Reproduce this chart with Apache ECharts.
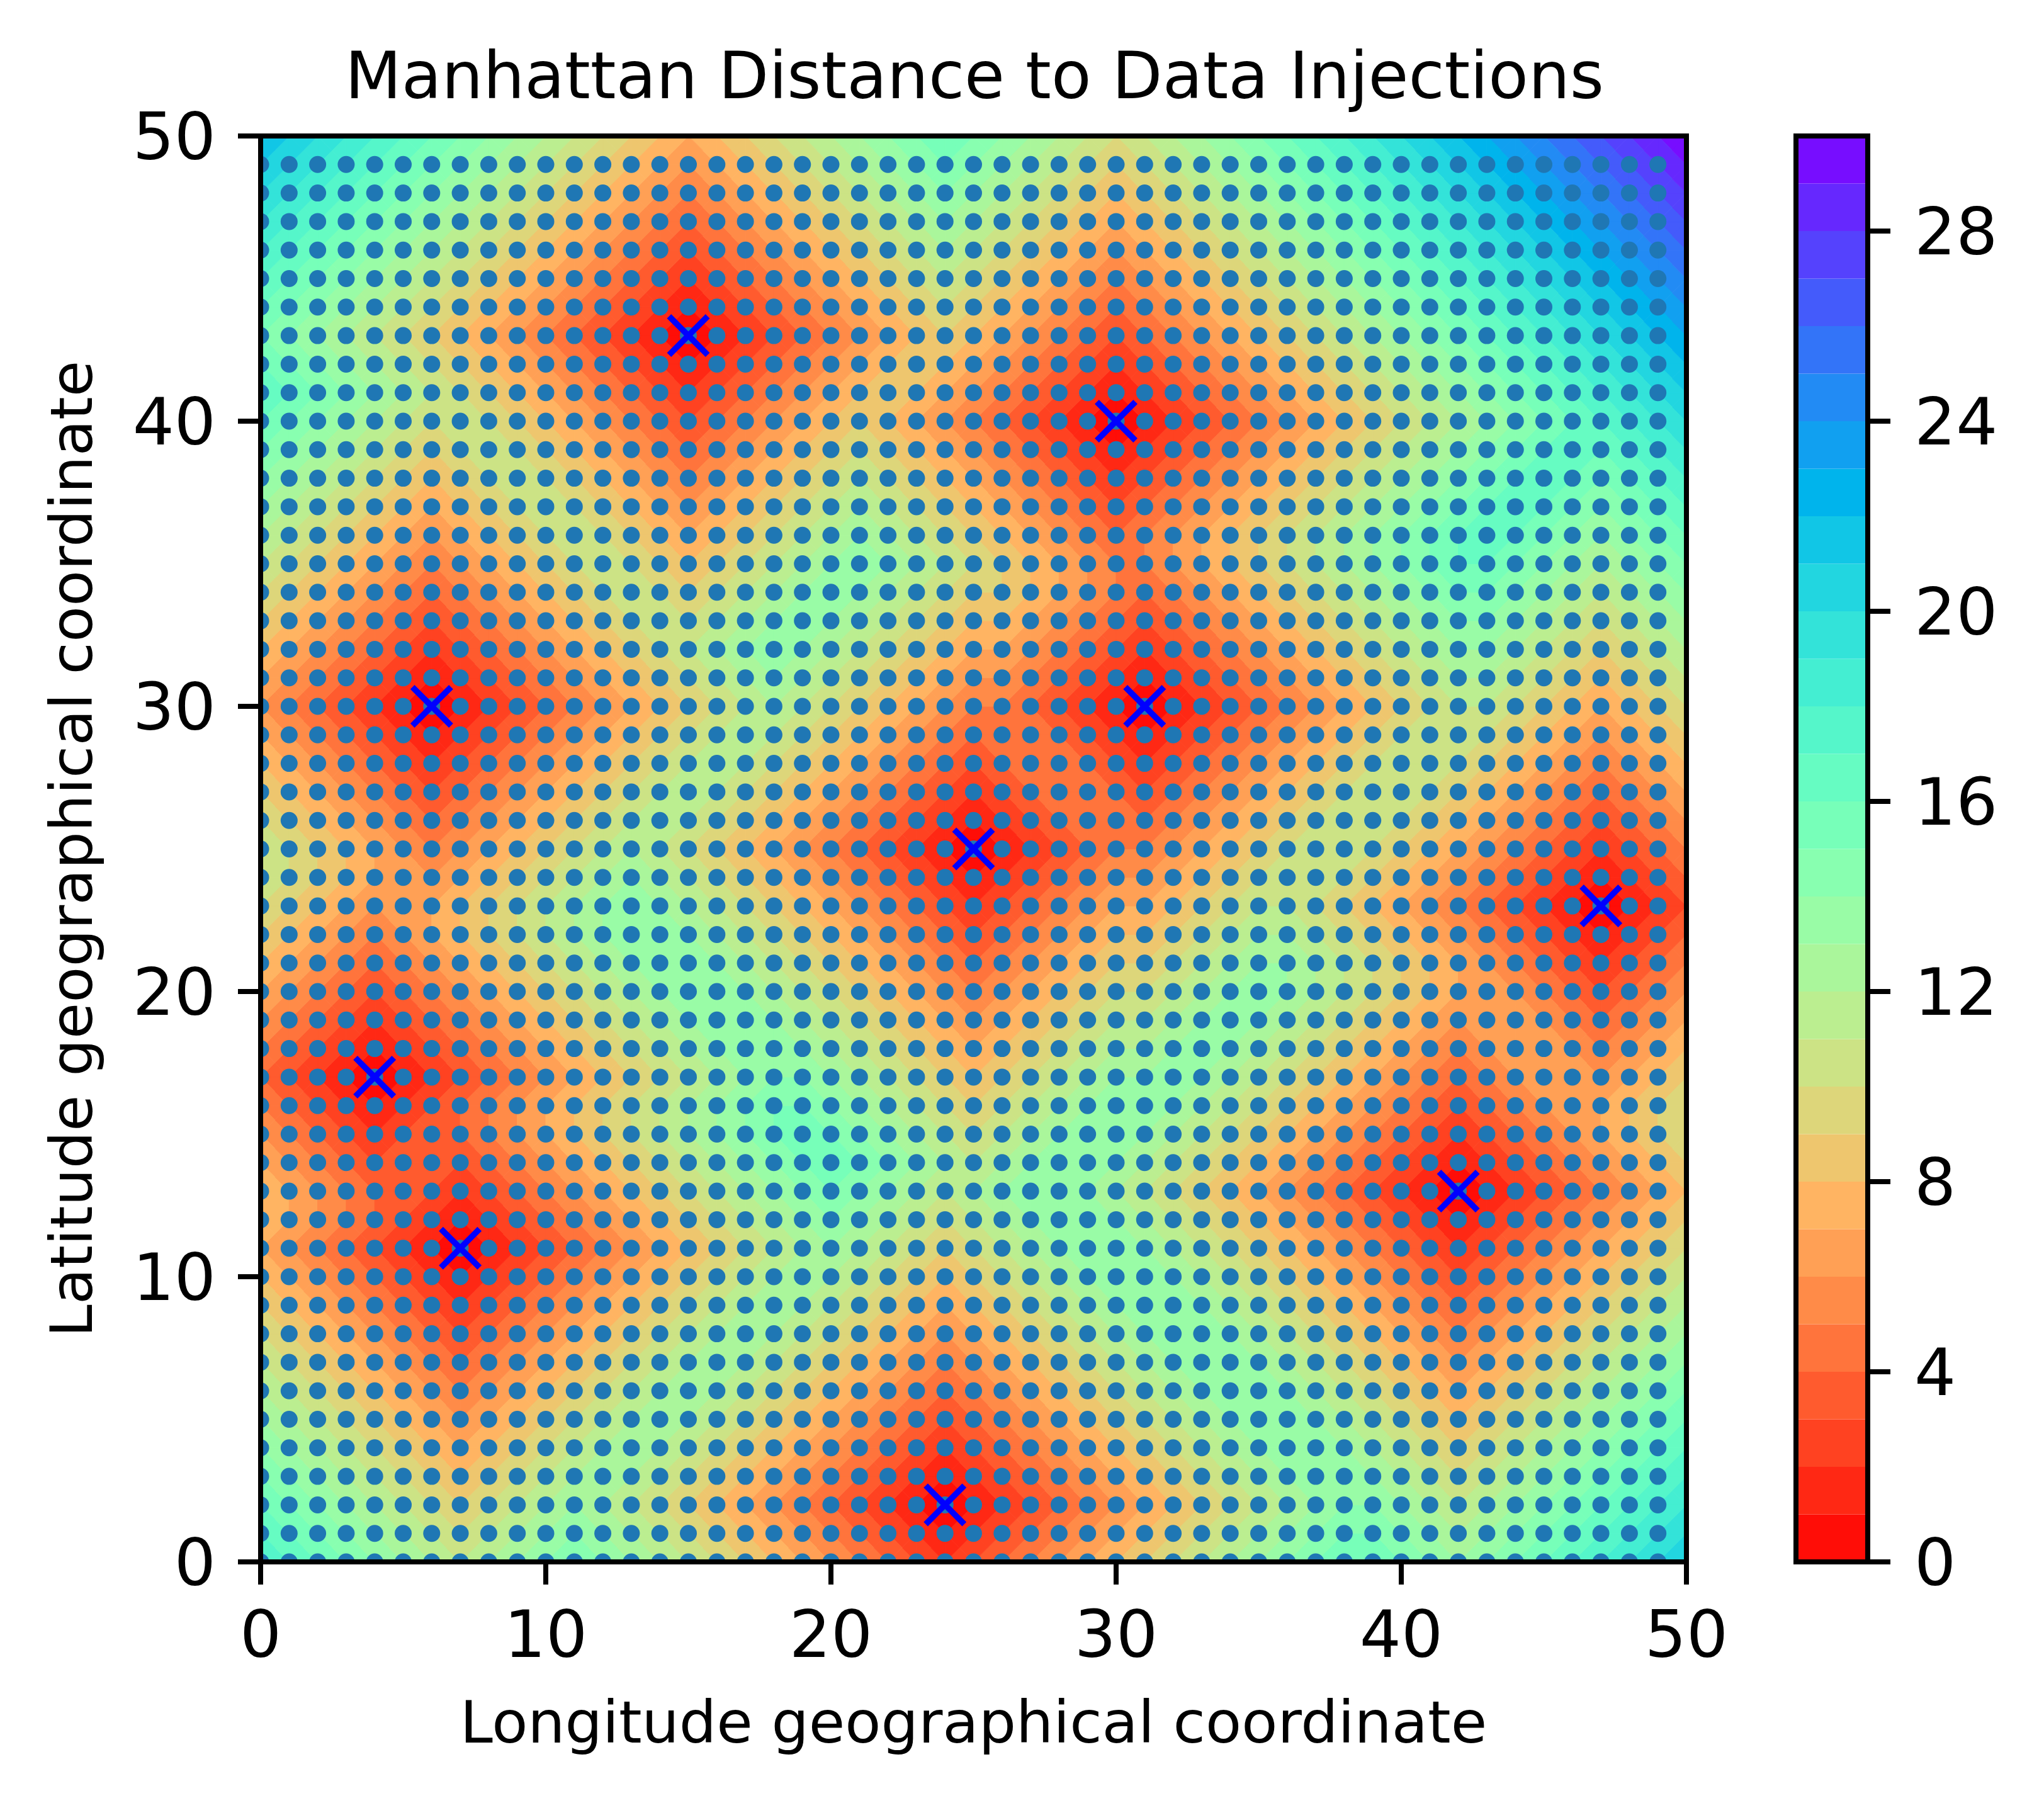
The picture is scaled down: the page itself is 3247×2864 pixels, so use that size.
<!DOCTYPE html>
<html>
<head>
<meta charset="utf-8">
<style>
  html, body { margin: 0; padding: 0; background: #fff; }
  #chart { width: 3247px; height: 2864px; }
</style>
<script src="https://cdn.jsdelivr.net/npm/echarts@6/dist/echarts.min.js"></script>
</head>
<body>
<div id="chart"></div>
<script>
// injection sites
const injectionX = [15, 30, 6, 31, 25, 47, 4, 42, 7, 24]
const injectionY = [43, 40, 30, 30, 25, 23, 17, 13, 11, 2]

// sample dots
const sampleCoords = [0,1,2,3,4,5,6,7,8,9,10,11,12,13,14,15,16,17,18,19,20,21,22,23,24,25,26,27,28,29,30,31,32,33,34,35,36,37,38,39,40,41,42,43,44,45,46,47,48,49]

// distance field, one row per latitude 0..50, longitude 0..50 left to right
const distanceRows = [
  [18,17,16,15,14,13,12,11,12,13,14,15,14,13,12,11,10,9,8,7,6,5,4,3,2,3,4,5,6,7,8,9,10,11,12,13,14,15,16,16,15,14,13,14,15,16,17,18,19,20,21],
  [17,16,15,14,13,12,11,10,11,12,13,14,13,12,11,10,9,8,7,6,5,4,3,2,1,2,3,4,5,6,7,8,9,10,11,12,13,14,15,15,14,13,12,13,14,15,16,17,18,19,20],
  [16,15,14,13,12,11,10,9,10,11,12,13,12,11,10,9,8,7,6,5,4,3,2,1,0,1,2,3,4,5,6,7,8,9,10,11,12,13,14,14,13,12,11,12,13,14,15,16,17,18,19],
  [15,14,13,12,11,10,9,8,9,10,11,12,13,12,11,10,9,8,7,6,5,4,3,2,1,2,3,4,5,6,7,8,9,10,11,12,13,14,14,13,12,11,10,11,12,13,14,15,16,17,18],
  [14,13,12,11,10,9,8,7,8,9,10,11,12,13,12,11,10,9,8,7,6,5,4,3,2,3,4,5,6,7,8,9,10,11,12,13,14,14,13,12,11,10,9,10,11,12,13,14,15,16,17],
  [13,12,11,10,9,8,7,6,7,8,9,10,11,12,13,12,11,10,9,8,7,6,5,4,3,4,5,6,7,8,9,10,11,12,13,14,14,13,12,11,10,9,8,9,10,11,12,13,14,15,16],
  [12,11,10,9,8,7,6,5,6,7,8,9,10,11,12,13,12,11,10,9,8,7,6,5,4,5,6,7,8,9,10,11,12,13,14,14,13,12,11,10,9,8,7,8,9,10,11,12,13,14,15],
  [11,10,9,8,7,6,5,4,5,6,7,8,9,10,11,12,13,12,11,10,9,8,7,6,5,6,7,8,9,10,11,12,13,14,14,13,12,11,10,9,8,7,6,7,8,9,10,11,12,13,14],
  [10,9,8,7,6,5,4,3,4,5,6,7,8,9,10,11,12,13,12,11,10,9,8,7,6,7,8,9,10,11,12,13,14,14,13,12,11,10,9,8,7,6,5,6,7,8,9,10,11,12,13],
  [9,8,7,6,5,4,3,2,3,4,5,6,7,8,9,10,11,12,13,12,11,10,9,8,7,8,9,10,11,12,13,14,14,13,12,11,10,9,8,7,6,5,4,5,6,7,8,9,10,11,12],
  [8,7,6,5,4,3,2,1,2,3,4,5,6,7,8,9,10,11,12,13,12,11,10,9,8,9,10,11,12,13,14,14,13,12,11,10,9,8,7,6,5,4,3,4,5,6,7,8,9,10,11],
  [7,6,5,4,3,2,1,0,1,2,3,4,5,6,7,8,9,10,11,12,13,12,11,10,9,10,11,12,13,14,14,13,12,11,10,9,8,7,6,5,4,3,2,3,4,5,6,7,8,9,10],
  [8,7,6,5,4,3,2,1,2,3,4,5,6,7,8,9,10,11,12,13,14,13,12,11,10,11,12,13,14,14,13,12,11,10,9,8,7,6,5,4,3,2,1,2,3,4,5,6,7,8,9],
  [8,7,6,5,4,4,3,2,3,4,5,6,7,8,9,10,11,12,13,14,15,14,13,12,11,12,13,14,14,13,12,11,10,9,8,7,6,5,4,3,2,1,0,1,2,3,4,5,6,7,8],
  [7,6,5,4,3,4,4,3,4,5,6,7,8,9,10,11,12,13,14,15,16,15,14,13,12,11,12,13,14,14,13,12,11,10,9,8,7,6,5,4,3,2,1,2,3,4,5,6,7,8,9],
  [6,5,4,3,2,3,4,4,5,6,7,8,9,10,11,12,13,14,15,16,15,14,13,12,11,10,11,12,13,14,14,13,12,11,10,9,8,7,6,5,4,3,2,3,4,5,6,7,8,9,10],
  [5,4,3,2,1,2,3,4,5,6,7,8,9,10,11,12,13,14,15,15,14,13,12,11,10,9,10,11,12,13,14,14,13,12,11,10,9,8,7,6,5,4,3,4,5,6,7,7,8,9,10],
  [4,3,2,1,0,1,2,3,4,5,6,7,8,9,10,11,12,13,14,14,13,12,11,10,9,8,9,10,11,12,13,13,14,13,12,11,10,9,8,7,6,5,4,5,6,7,7,6,7,8,9],
  [5,4,3,2,1,2,3,4,5,6,7,8,9,10,11,12,13,14,14,13,12,11,10,9,8,7,8,9,10,11,12,12,13,14,13,12,11,10,9,8,7,6,5,6,7,7,6,5,6,7,8],
  [6,5,4,3,2,3,4,5,6,7,8,9,10,11,12,13,14,14,13,12,11,10,9,8,7,6,7,8,9,10,11,11,12,13,14,13,12,11,10,9,8,7,6,7,7,6,5,4,5,6,7],
  [7,6,5,4,3,4,5,6,7,8,9,10,11,12,13,14,14,13,12,11,10,9,8,7,6,5,6,7,8,9,10,10,11,12,13,14,13,12,11,10,9,8,7,7,6,5,4,3,4,5,6],
  [8,7,6,5,4,5,6,7,8,9,10,11,12,13,14,14,13,12,11,10,9,8,7,6,5,4,5,6,7,8,9,9,10,11,12,13,13,12,11,10,9,8,7,6,5,4,3,2,3,4,5],
  [9,8,7,6,5,6,7,8,9,10,11,12,13,14,14,13,12,11,10,9,8,7,6,5,4,3,4,5,6,7,8,8,9,10,11,12,12,11,10,9,8,7,6,5,4,3,2,1,2,3,4],
  [10,9,8,7,6,7,7,8,9,10,11,12,13,14,13,12,11,10,9,8,7,6,5,4,3,2,3,4,5,6,7,7,8,9,10,11,11,10,9,8,7,6,5,4,3,2,1,0,1,2,3],
  [11,10,9,8,7,7,6,7,8,9,10,11,12,13,12,11,10,9,8,7,6,5,4,3,2,1,2,3,4,5,6,6,7,8,9,10,11,11,10,9,8,7,6,5,4,3,2,1,2,3,4],
  [11,10,9,8,7,6,5,6,7,8,9,10,11,12,11,10,9,8,7,6,5,4,3,2,1,0,1,2,3,4,5,5,6,7,8,9,10,11,11,10,9,8,7,6,5,4,3,2,3,4,5],
  [10,9,8,7,6,5,4,5,6,7,8,9,10,11,12,11,10,9,8,7,6,5,4,3,2,1,2,3,4,5,5,4,5,6,7,8,9,10,11,11,10,9,8,7,6,5,4,3,4,5,6],
  [9,8,7,6,5,4,3,4,5,6,7,8,9,10,11,12,11,10,9,8,7,6,5,4,3,2,3,4,5,5,4,3,4,5,6,7,8,9,10,11,11,10,9,8,7,6,5,4,5,6,7],
  [8,7,6,5,4,3,2,3,4,5,6,7,8,9,10,11,12,11,10,9,8,7,6,5,4,3,4,5,5,4,3,2,3,4,5,6,7,8,9,10,11,11,10,9,8,7,6,5,6,7,8],
  [7,6,5,4,3,2,1,2,3,4,5,6,7,8,9,10,11,12,11,10,9,8,7,6,5,4,5,5,4,3,2,1,2,3,4,5,6,7,8,9,10,11,11,10,9,8,7,6,7,8,9],
  [6,5,4,3,2,1,0,1,2,3,4,5,6,7,8,9,10,11,12,11,10,9,8,7,6,5,5,4,3,2,1,0,1,2,3,4,5,6,7,8,9,10,11,11,10,9,8,7,8,9,10],
  [7,6,5,4,3,2,1,2,3,4,5,6,7,8,9,10,11,12,13,12,11,10,9,8,7,6,6,5,4,3,2,1,2,3,4,5,6,7,8,9,10,11,12,12,11,10,9,8,9,10,11],
  [8,7,6,5,4,3,2,3,4,5,6,7,8,9,10,11,12,13,14,13,12,11,10,9,8,7,7,6,5,4,3,2,3,4,5,6,7,8,9,10,11,12,13,13,12,11,10,9,10,11,12],
  [9,8,7,6,5,4,3,4,5,6,7,8,9,10,11,10,11,12,13,14,13,12,11,10,9,8,8,7,6,5,4,3,4,5,6,7,8,9,10,11,12,13,14,14,13,12,11,10,11,12,13],
  [10,9,8,7,6,5,4,5,6,7,8,9,10,11,10,9,10,11,12,13,14,13,12,11,10,9,9,8,7,6,5,4,5,6,7,8,9,10,11,12,13,14,15,15,14,13,12,11,12,13,14],
  [11,10,9,8,7,6,5,6,7,8,9,10,11,10,9,8,9,10,11,12,13,14,13,12,11,10,9,8,7,6,5,5,6,7,8,9,10,11,12,13,14,15,16,16,15,14,13,12,13,14,15],
  [12,11,10,9,8,7,6,7,8,9,10,11,10,9,8,7,8,9,10,11,12,13,12,11,10,9,8,7,6,5,4,5,6,7,8,9,10,11,12,13,14,15,16,17,16,15,14,13,14,15,16],
  [13,12,11,10,9,8,7,8,9,10,11,10,9,8,7,6,7,8,9,10,11,12,11,10,9,8,7,6,5,4,3,4,5,6,7,8,9,10,11,12,13,14,15,16,17,16,15,14,15,16,17],
  [14,13,12,11,10,9,8,9,10,11,10,9,8,7,6,5,6,7,8,9,10,11,10,9,8,7,6,5,4,3,2,3,4,5,6,7,8,9,10,11,12,13,14,15,16,17,16,15,16,17,18],
  [15,14,13,12,11,10,9,10,11,10,9,8,7,6,5,4,5,6,7,8,9,10,9,8,7,6,5,4,3,2,1,2,3,4,5,6,7,8,9,10,11,12,13,14,15,16,17,16,17,18,19],
  [16,15,14,13,12,11,10,11,10,9,8,7,6,5,4,3,4,5,6,7,8,9,8,7,6,5,4,3,2,1,0,1,2,3,4,5,6,7,8,9,10,11,12,13,14,15,16,17,18,19,20],
  [17,16,15,14,13,12,11,10,9,8,7,6,5,4,3,2,3,4,5,6,7,8,9,8,7,6,5,4,3,2,1,2,3,4,5,6,7,8,9,10,11,12,13,14,15,16,17,18,19,20,21],
  [16,15,14,13,12,11,10,9,8,7,6,5,4,3,2,1,2,3,4,5,6,7,8,9,8,7,6,5,4,3,2,3,4,5,6,7,8,9,10,11,12,13,14,15,16,17,18,19,20,21,22],
  [15,14,13,12,11,10,9,8,7,6,5,4,3,2,1,0,1,2,3,4,5,6,7,8,9,8,7,6,5,4,3,4,5,6,7,8,9,10,11,12,13,14,15,16,17,18,19,20,21,22,23],
  [16,15,14,13,12,11,10,9,8,7,6,5,4,3,2,1,2,3,4,5,6,7,8,9,10,9,8,7,6,5,4,5,6,7,8,9,10,11,12,13,14,15,16,17,18,19,20,21,22,23,24],
  [17,16,15,14,13,12,11,10,9,8,7,6,5,4,3,2,3,4,5,6,7,8,9,10,11,10,9,8,7,6,5,6,7,8,9,10,11,12,13,14,15,16,17,18,19,20,21,22,23,24,25],
  [18,17,16,15,14,13,12,11,10,9,8,7,6,5,4,3,4,5,6,7,8,9,10,11,12,11,10,9,8,7,6,7,8,9,10,11,12,13,14,15,16,17,18,19,20,21,22,23,24,25,26],
  [19,18,17,16,15,14,13,12,11,10,9,8,7,6,5,4,5,6,7,8,9,10,11,12,13,12,11,10,9,8,7,8,9,10,11,12,13,14,15,16,17,18,19,20,21,22,23,24,25,26,27],
  [20,19,18,17,16,15,14,13,12,11,10,9,8,7,6,5,6,7,8,9,10,11,12,13,14,13,12,11,10,9,8,9,10,11,12,13,14,15,16,17,18,19,20,21,22,23,24,25,26,27,28],
  [21,20,19,18,17,16,15,14,13,12,11,10,9,8,7,6,7,8,9,10,11,12,13,14,15,14,13,12,11,10,9,10,11,12,13,14,15,16,17,18,19,20,21,22,23,24,25,26,27,28,29],
  [22,21,20,19,18,17,16,15,14,13,12,11,10,9,8,7,8,9,10,11,12,13,14,15,16,15,14,13,12,11,10,11,12,13,14,15,16,17,18,19,20,21,22,23,24,25,26,27,28,29,30]
]

// one colour per unit band 0-1 ... 29-30
const bandColors = [
  '#ff0d07','#ff2814','#ff4221','#ff5b2e','#ff743c','#ff8b48','#ffa055','#ffb462','#eec66e','#ddd67a',
  '#cce385','#bbee90','#aaf69b','#99fca6','#88ffb0','#77ffb9','#66fcc2','#55f6ca','#44eed2','#33e3d9',
  '#22d6e0','#11c6e6','#00b4ec','#11a0f0','#228bf4','#3374f8','#445bfb','#5542fd','#6628fe','#770dff'
]
const colorbarTicks = [0, 4, 8, 12, 16, 20, 24, 28]
const mapTicks = [0, 10, 20, 30, 40, 50]

const FONT = 'DejaVu Sans'
const LINE = { color: '#000', width: 8, cap: 'square' }
const TICK_FONT = 104
const NAME_FONT = 93.5
// top-aligned labels pulled back up so the digits sit on the tick like the original
const LABEL_NUDGE = [-42, 0, 0, 0]

const cells = []
for (let y = 0; y < 50; y++) {
  for (let x = 0; x < 50; x++) {
    cells.push([x, y, distanceRows[y][x], distanceRows[y][x + 1], distanceRows[y + 1][x + 1], distanceRows[y + 1][x]])
  }
}
const dots = []
sampleCoords.forEach(y => sampleCoords.forEach(x => dots.push([x, y])))
const crosses = injectionX.map((x, i) => [x, injectionY[i]])
const bands = bandColors.map((c, i) => [i, i + 1])

// keep the part of a polygon [x, y, v] on one side of a level
function clipLevel(poly, level, sign) {
  const out = []
  poly.forEach((p, i) => {
    const q = poly[(i + 1) % poly.length]
    const dp = (p[2] - level) * sign
    const dq = (q[2] - level) * sign
    if (dp >= 0) out.push(p)
    if ((dp > 0 && dq < 0) || (dp < 0 && dq > 0)) {
      const t = dp / (dp - dq)
      out.push([p[0] + (q[0] - p[0]) * t, p[1] + (q[1] - p[1]) * t, level])
    }
  })
  return out
}

function bandPolygon(points, band, api) {
  return {
    type: 'polygon',
    shape: { points: points.map(p => api.coord([p[0], p[1]])) },
    style: { fill: bandColors[band], stroke: bandColors[band], lineWidth: 1 }
  }
}

function renderCell(params, api) {
  const [x, y, a, b, c, d] = cells[params.dataIndex]
  const lo = Math.min(a, b, c, d)
  const hi = Math.max(a, b, c, d)
  const corners = [[x, y, a], [x + 1, y, b], [x + 1, y + 1, c], [x, y + 1, d]]
  if (hi - lo <= 1) {
    return { type: 'group', children: [bandPolygon(corners, Math.min(lo, bandColors.length - 1), api)] }
  }
  const mid = [x + 0.5, y + 0.5, (a + b + c + d) / 4]
  const children = []
  corners.forEach((p, i) => {
    const tri = [p, corners[(i + 1) % 4], mid]
    for (let band = lo; band < hi; band++) {
      const part = clipLevel(clipLevel(tri, band, 1), band + 1, -1)
      if (part.length >= 3) children.push(bandPolygon(part, band, api))
    }
  })
  return { type: 'group', children }
}

function renderDot(params, api) {
  const p = api.coord(dots[params.dataIndex])
  return {
    type: 'circle',
    shape: { cx: p[0], cy: p[1], r: 13.5 },
    style: { fill: '#1f77b4' }
  }
}

function renderBand(params, api) {
  const band = bands[params.dataIndex]
  const p0 = api.coord([0, band[0]])
  const p1 = api.coord([1, band[1]])
  return {
    type: 'rect',
    shape: { x: p0[0], y: p1[1], width: p1[0] - p0[0], height: p0[1] - p1[1] },
    style: { fill: bandColors[params.dataIndex] }
  }
}

function frameAxis(gridIndex, position, max) {
  return {
    type: 'value', gridIndex, position, min: 0, max, z: 5,
    axisLine: { show: true, onZero: false, lineStyle: LINE },
    axisTick: { show: false }, axisLabel: { show: false }, splitLine: { show: false }
  }
}

function tickAxis(gridIndex, position, max, ticks, margin, padding) {
  const axisLabel = { show: true, margin, padding, fontFamily: FONT, fontSize: TICK_FONT, color: '#000', customValues: ticks }
  if (padding) axisLabel.verticalAlign = 'top'
  return {
    type: 'value', gridIndex, position, min: 0, max, z: 5,
    axisLine: { show: true, onZero: false, lineStyle: LINE },
    axisTick: { show: true, length: 36, lineStyle: { color: '#000', width: 8 }, customValues: ticks },
    axisLabel,
    splitLine: { show: false }
  }
}

function mapAxis(position, name, nameGap, margin, padding) {
  return Object.assign(tickAxis(0, position, 50, mapTicks, margin, padding), {
    name, nameLocation: 'middle', nameGap,
    nameTextStyle: { fontFamily: FONT, fontSize: NAME_FONT, color: '#000' }
  })
}

const chart = echarts.init(document.getElementById('chart'), null, { renderer: 'canvas' })
chart.setOption({
  animation: false,
  backgroundColor: '#fff',
  title: {
    text: 'Manhattan Distance to Data Injections',
    left: 1543, top: 72, textAlign: 'center',
    textStyle: { fontFamily: FONT, fontSize: TICK_FONT, fontWeight: 'normal', color: '#000' }
  },
  grid: [
    { left: 414, top: 216, width: 2265, height: 2265 },
    { left: 2853, top: 216, width: 114, height: 2265 }
  ],
  xAxis: [
    mapAxis('bottom', 'Longitude geographical coordinate', 216, 72, 0),
    frameAxis(0, 'top', 50),
    frameAxis(1, 'bottom', 1),
    frameAxis(1, 'top', 1)
  ],
  yAxis: [
    mapAxis('left', 'Latitude geographical coordinate', 245, 71, LABEL_NUDGE),
    frameAxis(0, 'right', 50),
    frameAxis(1, 'left', 30),
    tickAxis(1, 'right', 30, colorbarTicks, 74, LABEL_NUDGE)
  ],
  series: [
    {
      type: 'custom', xAxisIndex: 0, yAxisIndex: 0, data: cells, encode: { x: 0, y: 1 },
      renderItem: renderCell, clip: true, silent: true, progressive: 0, z: 1
    },
    {
      type: 'custom', xAxisIndex: 0, yAxisIndex: 0, data: dots, encode: { x: 0, y: 1 },
      renderItem: renderDot, clip: true, silent: true, progressive: 0, z: 2
    },
    {
      type: 'scatter', xAxisIndex: 0, yAxisIndex: 0, data: crosses, symbolSize: 68,
      symbol: 'path://M34 27.28L61.28 0L68 6.72L40.72 34L68 61.28L61.28 68L34 40.72L6.72 68L0 61.28L27.28 34L0 6.72L6.72 0Z',
      itemStyle: { color: '#0000ff', opacity: 1 }, clip: false, silent: true, z: 3
    },
    {
      type: 'custom', xAxisIndex: 2, yAxisIndex: 2, data: bands, encode: { y: [0, 1] },
      renderItem: renderBand, silent: true, z: 1
    }
  ]
})
</script>
</body>
</html>
